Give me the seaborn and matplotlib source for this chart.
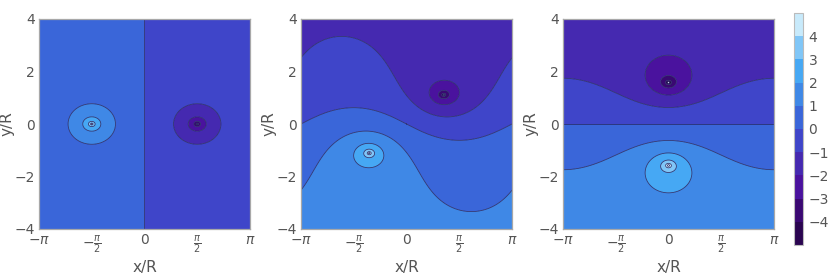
import numpy as np
import seaborn as sns
import matplotlib.pyplot as plt
from matplotlib.colors import ListedColormap, BoundaryNorm
from matplotlib.ticker import MultipleLocator

# vortex pair positions (dark = negative, light = positive)
dark_x = [1.57, 1.11, 0.0]
dark_y = [0.0, 1.11, 1.58]
light_x = [-1.57, -1.11, 0.0]
light_y = [0.0, -1.11, -1.58]

levels = [-5, -4, -3, -2, -1, 0, 1, 2, 3, 4, 5]
band_colors = ["#2a0450", "#3a0872", "#4a129e", "#4529b0", "#3f45c9",
               "#3a66d9", "#3f88e6", "#46a8f4", "#80c6f7", "#c8eafb"]
cbar_ticks = [-4, -3, -2, -1, 0, 1, 2, 3, 4]
xtick_pos = [-np.pi, -np.pi / 2, 0, np.pi / 2, np.pi]
xtick_lab = [r"$-\pi$", r"$-\frac{\pi}{2}$", "$0$", r"$\frac{\pi}{2}$", r"$\pi$"]
ytick_pos = [-4, -2, 0, 2, 4]

sns.set_style("white")
plt.rcParams["font.family"] = ["DejaVu Sans"]
plt.rcParams["mathtext.fontset"] = "dejavusans"

cmap = ListedColormap(band_colors)
norm = BoundaryNorm(levels, cmap.N)
grey = "#555555"

x = np.linspace(-np.pi, np.pi, 701)
y = np.linspace(-4, 4, 701)
X, Y = np.meshgrid(x, y)
Z = X + 1j * Y

fig = plt.figure(figsize=(8.3, 2.75), dpi=100)
lefts = [39, 301, 563]
cs = None
for i, left in enumerate(lefts):
    ax = fig.add_axes([left / 830, 46 / 275, 211 / 830, 210 / 275])
    zd = dark_x[i] + 1j * dark_y[i]
    zl = light_x[i] + 1j * light_y[i]
    with np.errstate(divide="ignore", invalid="ignore"):
        psi = np.log(np.abs(np.sin((Z - zd) / 2))) - np.log(np.abs(np.sin((Z - zl) / 2)))
    cs = ax.contourf(X, Y, psi, levels=levels, cmap=cmap, norm=norm, antialiased=True)
    ax.contour(X, Y, psi, levels=levels, colors="#272a68", linewidths=0.55,
               negative_linestyles="solid")
    ax.set_xlim(-np.pi, np.pi)
    ax.set_ylim(-4, 4)
    ax.set_xticks(xtick_pos)
    ax.set_xticklabels(xtick_lab)
    ax.set_yticks(ytick_pos)
    ax.xaxis.set_minor_locator(MultipleLocator(np.pi / 8))
    ax.yaxis.set_minor_locator(MultipleLocator(0.5))
    ax.tick_params(which="major", direction="in", length=3, width=0.6, color="#999999",
                   labelsize=10, labelcolor=grey, pad=3, top=False, right=False,
                   bottom=True, left=True)
    ax.tick_params(which="minor", direction="in", length=1.5, width=0.5, color="#bbbbbb",
                   bottom=True, left=True)
    for s in ax.spines.values():
        s.set_color("#a8a8a8")
        s.set_linewidth(0.9)
    ax.set_xlabel("x/R", fontsize=11, color=grey, labelpad=4)
    ax.set_ylabel("y/R", fontsize=11, color=grey)
    ax.yaxis.set_label_coords(-0.115, 0.5)

cax = fig.add_axes([794 / 830, 30 / 275, 9 / 830, 232 / 275])
cb = fig.colorbar(cs, cax=cax, ticks=cbar_ticks)
cb.minorticks_off()
cb.outline.set_edgecolor("#bbbbbb")
cb.outline.set_linewidth(0.8)
cb.ax.tick_params(which="both", length=0, labelsize=10, labelcolor=grey, pad=4)
cb.ax.set_yticklabels([str(t).replace("-", "\u2212") for t in cbar_ticks])
for coll in cb.ax.collections:
    coll.set_linewidth(0)

fig.savefig("out.png", dpi=100)
